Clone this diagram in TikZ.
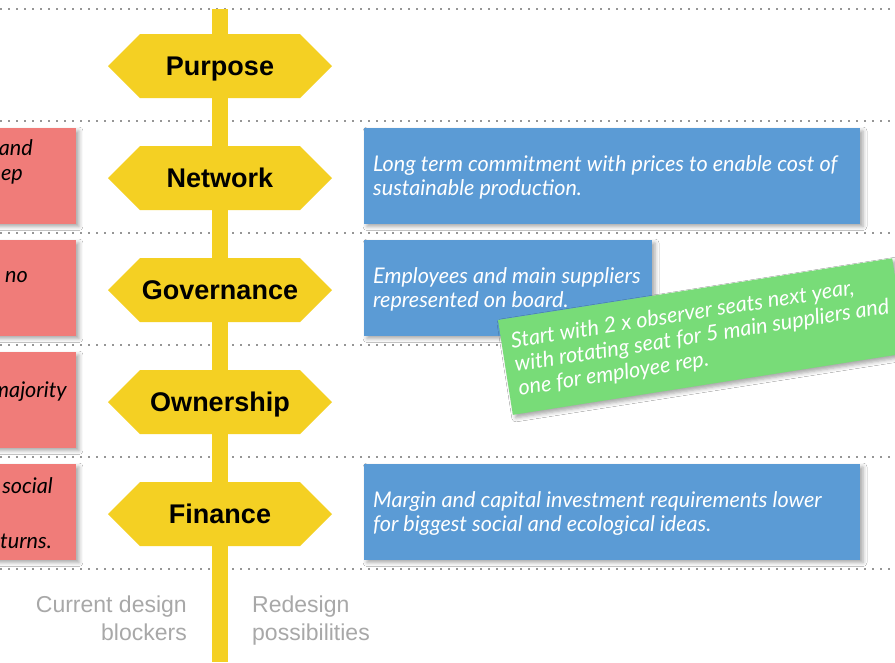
\documentclass[tikz,border=0pt]{standalone}
\usepackage{fontspec}
\setmainfont{Liberation Sans}
\newfontfamily\handfont{Lato}
\usetikzlibrary{shadows.blur}
\definecolor{signyellow}{RGB}{244,208,35}
\definecolor{notepink}{RGB}{240,124,121}
\definecolor{noteblue}{RGB}{91,155,213}
\definecolor{notegreen}{RGB}{120,220,120}
\definecolor{dotgray}{RGB}{150,150,150}
\definecolor{labelgray}{RGB}{168,168,168}
\tikzset{
  dotline/.style={dotgray, line width=2pt, dash pattern=on 2pt off 6pt},
  signtext/.style={font=\bfseries\fontsize{27}{30}\selectfont, text=black, inner sep=0pt, anchor=base},
  note/.style={rectangle, inner sep=0pt, minimum height=95.5pt,
    blur shadow={shadow xshift=3pt, shadow yshift=-3pt, shadow blur radius=4pt, shadow opacity=35}},
  pinknote/.style={note, fill=notepink, minimum width=496pt},
  bluenote/.style={note, fill=noteblue},
  greennote/.style={note, fill=notegreen, minimum width=399pt, minimum height=96pt},
  handtext/.style={font=\handfont\itshape\fontsize{21.6}{24}\selectfont, inner sep=0pt, anchor=base west},
  whitehand/.style={handtext, text=white},
  blackhand/.style={handtext, text=black, anchor=base east},
  caption/.style={font=\fontsize{23}{28}\selectfont, text=labelgray, inner sep=0pt},
}
\begin{document}
\begin{tikzpicture}[x=1pt,y=-1pt]
\clip (0,0) rectangle (895,662);
\fill[white] (0,0) rectangle (895,662);
% dotted separators
\foreach \yy in {9,121,233,345,457,569}{
  \draw[dotline] (0,\yy) -- (895,\yy);
}
% pole
\fill[signyellow] (212,9) rectangle (228,662);
% signs
\foreach \n/\t [count=\i from 0] in {purpose/Purpose, network/Network, governance/Governance, ownership/Ownership, finance/Finance}{
  \pgfmathsetmacro\yy{66+112*\i}
  \fill[signyellow] (108,\yy) -- ++(32,-32) -- ++(160,0) -- ++(32,32) -- ++(-32,32) -- ++(-160,0) -- cycle;
  \node[signtext] (\n) at (220,\yy+9.6) {\t};
}
% pink notes (current design blockers)
\node[pinknote] (pink1) at (-172,175.75) {};
\node[pinknote] (pink2) at (-172,287.75) {};
\node[pinknote] (pink3) at (-172,399.75) {};
\node[pinknote] (pink4) at (-172,511.75) {};
\node[blackhand] (p1a) at (33,155) {and};
\node[blackhand] (p1b) at (23,180) {ep};
\node[blackhand] (p2a) at (28,282) {no};
\node[blackhand] (p3a) at (67,397) {majority};
\node[blackhand] (p4a) at (53,493) {social};
\node[blackhand] (p4b) at (52,548) {turns.};
% blue notes (redesign possibilities)
\node[bluenote, minimum width=496pt] (blue1) at (612,175.75) {};
\node[whitehand] (b1a) at (373,171) {Long term commitment with prices to enable cost of};
\node[whitehand] (b1b) at (373,195) {sustainable production.};
\node[bluenote, minimum width=288pt] (blue2) at (508,287.75) {};
\node[whitehand] (b2a) at (373,283) {Employees and main suppliers};
\node[whitehand] (b2b) at (373,307) {represented on board.};
\node[bluenote, minimum width=496pt] (blue3) at (612,511.75) {};
\node[whitehand] (b3a) at (373,507) {Margin and capital investment requirements lower};
\node[whitehand] (b3b) at (373,531) {for biggest social and ecological ideas.};
% green rotated note
\begin{scope}[shift={(498,320)}, rotate=8.9, transform shape]
  \node[greennote] (green) at (199.5,48) {};
  \node[whitehand] (g1) at (9.5,30) {Start with 2 x observer seats next year,};
  \node[whitehand] (g2) at (9.5,54) {with rotating seat for 5 main suppliers and};
  \node[whitehand] (g3) at (9.5,78) {one for employee rep.};
\end{scope}
% captions
\node[caption, anchor=base east] (cur1) at (187,612) {Current design};
\node[caption, anchor=base east] (cur2) at (187,640) {blockers};
\node[caption, anchor=base west] (re1) at (252,612) {Redesign};
\node[caption, anchor=base west] (re2) at (252,640) {possibilities};
\end{tikzpicture}
\end{document}
